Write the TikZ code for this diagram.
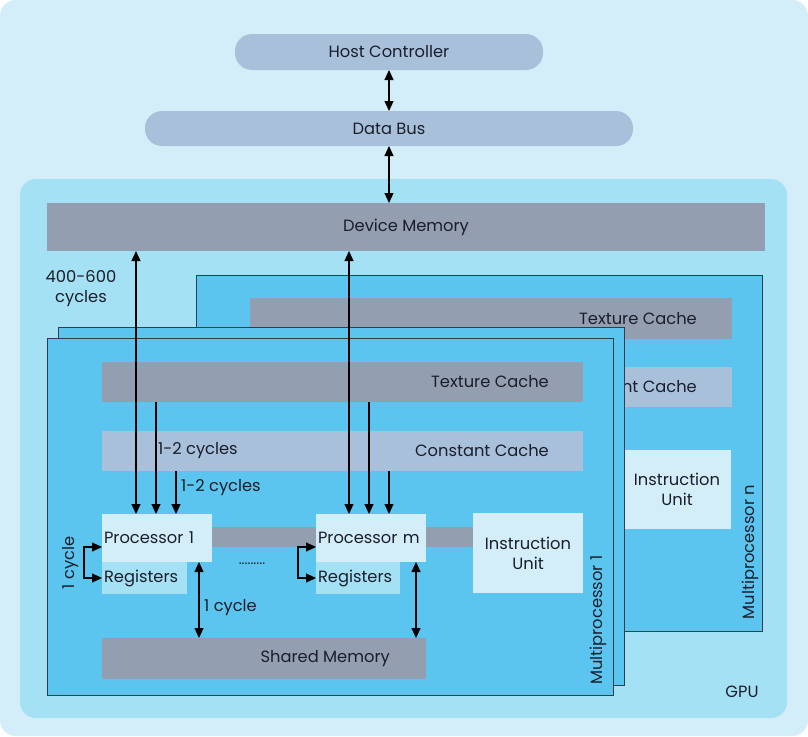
\documentclass[tikz,border=0pt]{standalone}
\usepackage{fontspec}
\setmainfont{Poppins}
\usetikzlibrary{arrows.meta}
\definecolor{bgout}{HTML}{D3EEF8}
\definecolor{gpuc}{HTML}{A5E1F4}
\definecolor{mpc}{HTML}{5BC5F0}
\definecolor{grayc}{HTML}{939EB0}
\definecolor{steel}{HTML}{A8C0DA}
\definecolor{lightc}{HTML}{D3EEF8}
\definecolor{regc}{HTML}{A5E1F4}
\definecolor{txt}{HTML}{1B1E2B}
\definecolor{edge}{HTML}{2E3E4E}
\begin{document}
\begin{tikzpicture}[x=1pt,y=-1pt,
  font=\fontsize{16.3}{20}\selectfont, text=txt,
  blk/.style={inner sep=0pt, outer sep=0pt, draw=none},
  mpbox/.style={fill=mpc, draw=edge, line width=0.9pt},
  lbl/.style={inner sep=0pt, text=txt},
  tip/.style={line width=1.1pt, -{Triangle[width=9pt,length=10pt]}},
  dbl/.style={line width=1.1pt, {Triangle[width=9pt,length=10pt]}-{Triangle[width=9pt,length=10pt]}}]
\useasboundingbox (0,0) rectangle (808,736);
\fill[white] (0,0) rectangle (808,736);
\fill[bgout, rounded corners=16pt] (0,0) rectangle (808,736);
% GPU
\node[blk, fill=gpuc, rounded corners=16pt, minimum width=767, minimum height=539] (gpu) at (403.5,448.5) {};
\node[lbl] (gpul) at (742,692) {GPU};
% host and bus
\node[blk, fill=steel, rounded corners=17pt, minimum width=308, minimum height=36] (hc) at (389,52) {Host Controller};
\node[blk, fill=steel, rounded corners=17pt, minimum width=488, minimum height=35] (db) at (389,128.5) {Data Bus};
\node[blk, fill=grayc, minimum width=718, minimum height=48] (dm) at (406,227) {Device Memory};
\node[lbl, align=center] (lat) at (81,289) {400-600\\cycles};
% Multiprocessor n (back)
\node[blk, mpbox, minimum width=566, minimum height=356] (mpn) at (479,453) {};
\node[blk, fill=grayc, minimum width=482, minimum height=41] (tcn) at (491,318.5) {};
\node[lbl, anchor=east] (tcnl) at ([xshift=-35pt]tcn.east) {Texture Cache};
\node[blk, fill=steel, minimum width=482, minimum height=40] (ccn) at (491,387) {};
\node[lbl, anchor=east] (ccnl) at ([xshift=-35pt]ccn.east) {Constant Cache};
\node[blk, fill=lightc, minimum width=108, minimum height=79, align=center] (iun) at (677,489.5) {Instruction\\Unit};
\node[lbl, rotate=90] (mpnl) at (750,552) {Multiprocessor n};
% Multiprocessor 2 (middle)
\node[blk, mpbox, minimum width=566, minimum height=358] (mp2) at (341,506) {};
% Multiprocessor 1 (front)
\node[blk, mpbox, minimum width=566, minimum height=357] (mp1) at (330,516.5) {};
\node[blk, fill=grayc, minimum width=481, minimum height=40] (tc) at (342.5,382) {};
\node[lbl, anchor=east] (tcl) at ([xshift=-34pt]tc.east) {Texture Cache};
\node[blk, fill=steel, minimum width=481, minimum height=40] (cc) at (342.5,451) {};
\node[lbl, anchor=east] (ccl) at ([xshift=-34pt]cc.east) {Constant Cache};
\node[blk, fill=grayc, minimum width=261, minimum height=20] (bar) at (342.5,537) {};
\node[blk, fill=lightc, minimum width=110, minimum height=48, text width=106pt, align=left] (p1) at (157,538) {Processor 1};
\node[blk, fill=regc, minimum width=85, minimum height=32, text width=81pt, align=left] (r1) at (144.5,578) {Registers};
\node[blk, fill=lightc, minimum width=110, minimum height=48, text width=106pt, align=left] (pm) at (371,538) {Processor m};
\node[blk, fill=regc, minimum width=84, minimum height=32, text width=80pt, align=left] (rm) at (358,578) {Registers};
\node[blk, fill=lightc, minimum width=110, minimum height=80, align=center] (iu) at (528,553) {Instruction\\Unit};
\node[blk, fill=grayc, minimum width=324, minimum height=41] (sm) at (264,658.5) {};
\node[lbl, anchor=east] (sml) at ([xshift=-36pt]sm.east) {Shared Memory};
\node[lbl, rotate=90] (mp1l) at (598,620) {Multiprocessor 1};
% labels
\node[lbl, anchor=west] (c12a) at (158,451) {1-2 cycles};
\node[lbl, anchor=west] (c12b) at (181,488) {1-2 cycles};
\node[lbl, rotate=90] (c1a) at (71,563) {1 cycle};
\node[lbl, anchor=west] (c1b) at (204,608) {1 cycle};
\node[lbl, font=\fontsize{14}{16}\selectfont] (dots) at (252,564) {.........};
% connectors
\draw[dbl] (hc.south) -- (db.north);
\draw[dbl] (db.south) -- (db.south |- dm.north);
\draw[dbl] ([xshift=-21pt]p1.north) -- ([xshift=-21pt]p1.north |- dm.south);
\draw[tip] ([xshift=-1pt]p1.north |- tc.south) -- ([xshift=-1pt]p1.north);
\draw[tip] ([xshift=19pt]p1.north |- cc.south) -- ([xshift=19pt]p1.north);
\draw[dbl] ([xshift=-22pt]pm.north) -- ([xshift=-22pt]pm.north |- dm.south);
\draw[tip] ([xshift=-2pt]pm.north |- tc.south) -- ([xshift=-2pt]pm.north);
\draw[tip] ([xshift=18pt]pm.north |- cc.south) -- ([xshift=18pt]pm.north);
\draw[dbl] ([yshift=-9pt]p1.west) -- ++(-18,0) |- (r1.west);
\draw[dbl] ([yshift=-9pt]pm.west) -- ++(-18,0) |- (rm.west);
\draw[dbl] ([xshift=42pt]p1.south) -- ([xshift=42pt]p1.south |- sm.north);
\draw[dbl] ([xshift=45pt]pm.south) -- ([xshift=45pt]pm.south |- sm.north);
\end{tikzpicture}
\end{document}
